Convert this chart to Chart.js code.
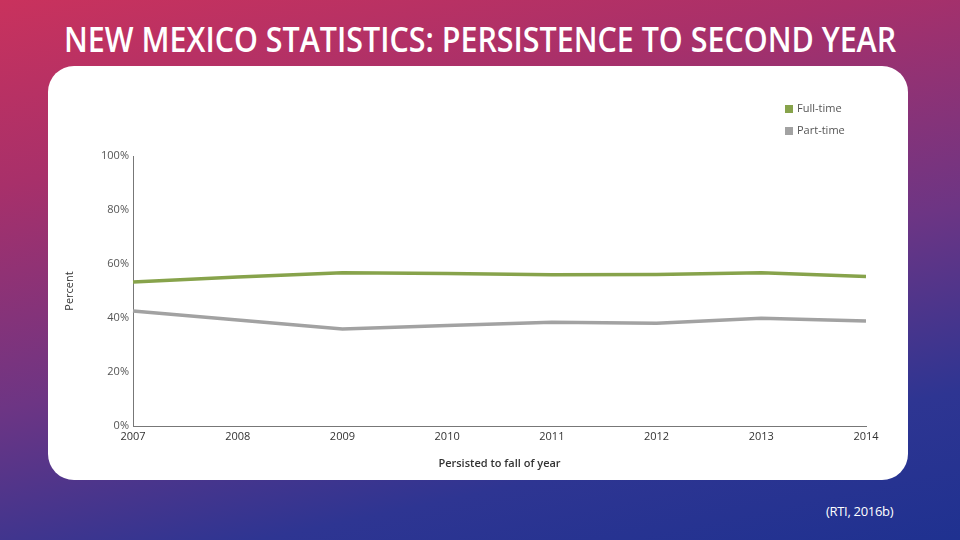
<!DOCTYPE html>
<html>
<head>
<meta charset="utf-8">
<script src="https://cdn.jsdelivr.net/npm/chart.js@4"></script>
<style>
  html, body { margin: 0; padding: 0; }
  body {
    width: 960px; height: 540px; overflow: hidden; position: relative;
    background: linear-gradient(168deg, #c9325d 0%, #a8306a 25%, #6d3584 55%, #2e3592 80%, #1f3190 100%);
    font-family: "Open Sans", sans-serif;
  }
  #title {
    position: absolute; left: 0; top: 16px; width: 960px; text-align: center;
    color: #fff; font-size: 34px; font-weight: 600; white-space: nowrap;
  }
  #title span { display: inline-block; transform-origin: center; }
  #panel {
    position: absolute; left: 48px; top: 66px; width: 860px; height: 414px;
    background: #fff; border-radius: 26px; overflow: hidden;
  }
  #cite {
    position: absolute; left: 826px; top: 502px; color: #fff; font-size: 13px;
    letter-spacing: -0.3px;
  }
</style>
</head>
<body>
<div id="title"><span id="titleText">NEW MEXICO STATISTICS: PERSISTENCE TO SECOND YEAR</span></div>
<div id="panel"><canvas id="chart" width="860" height="414"></canvas></div>
<div id="cite">(RTI, 2016b)</div>
<script>
// Data
const years = ['2007', '2008', '2009', '2010', '2011', '2012', '2013', '2014'];
const fullTime = [53.3, 55.2, 56.8, 56.5, 56.0, 56.1, 56.8, 55.4];
const partTime = [42.6, 39.3, 35.9, 37.2, 38.4, 38.1, 39.9, 38.9];
const yTicks = [0, 20, 40, 60, 80, 100];

// Squeeze the title into a condensed look, ~832px wide like the slide
const titleText = document.getElementById('titleText');
titleText.style.transform = 'scaleX(' + (832 / titleText.offsetWidth) + ')';

const tickFont = { family: 'Open Sans', size: 11 };

// Legend drawn as a small stacked list at top right
const cornerLegend = {
    id: 'cornerLegend',
    afterDraw(chart) {
        const c = chart.ctx;
        c.save();
        c.font = '11px "Open Sans"';
        c.textBaseline = 'middle';
        chart.data.datasets.forEach((ds, i) => {
            const y = 43 + i * 22;
            c.fillStyle = ds.borderColor;
            c.fillRect(737, y - 4, 8, 8);
            c.fillStyle = '#555';
            c.fillText(ds.label, 749, y);
        });
        c.restore();
    }
};

const chart = new Chart(document.getElementById('chart').getContext('2d'), {
    type: 'line',
    data: {
        labels: years,
        datasets: [{
            label: 'Full-time',
            data: fullTime,
            borderColor: '#87a34b',
            borderWidth: 3.5,
            pointRadius: 0,
            tension: 0
        }, {
            label: 'Part-time',
            data: partTime,
            borderColor: '#a2a2a2',
            borderWidth: 3.5,
            pointRadius: 0,
            tension: 0
        }]
    },
    options: {
        responsive: false,
        animation: false,
        layout: { padding: { left: 0, top: 90, right: 42, bottom: 0 } },
        plugins: {
            legend: { display: false },
            tooltip: { enabled: false }
        },
        scales: {
            x: {
                grid: { display: false, drawTicks: false },
                border: { display: true, color: '#777', width: 1 },
                ticks: { color: '#333', font: tickFont, padding: 4, maxRotation: 0 },
                title: {
                    display: true,
                    text: 'Persisted to fall of year',
                    color: '#333',
                    font: { family: 'Open Sans', size: 11, weight: '600' },
                    padding: { top: 10, bottom: 10 }
                },
                afterFit: scale => { scale.height = 54; }
            },
            y: {
                min: 0,
                max: 100,
                afterBuildTicks: scale => { scale.ticks = yTicks.map(v => ({ value: v })); },
                grid: { display: false, drawTicks: false },
                border: { display: true, color: '#777', width: 1 },
                ticks: {
                    color: '#555',
                    font: tickFont,
                    padding: 4,
                    callback: v => v + '%'
                },
                title: {
                    display: true,
                    text: 'Percent',
                    color: '#333',
                    font: { family: 'Open Sans', size: 11 },
                    padding: { top: 15 }
                },
                afterFit: scale => { scale.width = 85; }
            }
        }
    },
    plugins: [cornerLegend]
});
</script>
</body>
</html>
